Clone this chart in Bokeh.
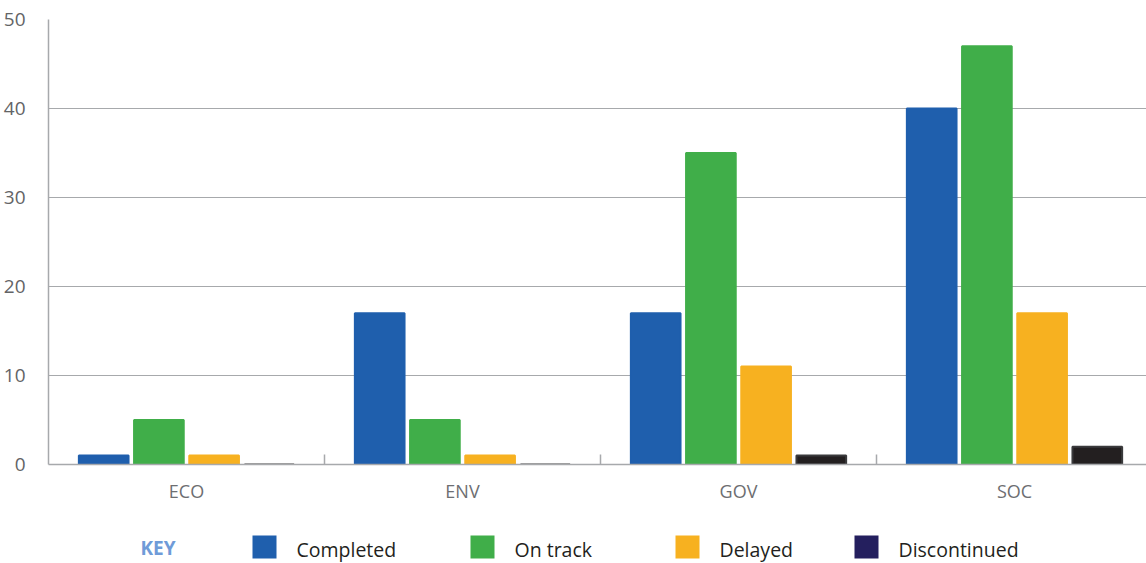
from bokeh.plotting import figure
from bokeh.layouts import column
from bokeh.models import Range1d, FixedTicker, ColumnDataSource
from bokeh.core.properties import value
from bokeh.embed import file_html
from bokeh.resources import INLINE

# Data
categories = ["ECO", "ENV", "GOV", "SOC"]
statuses = ["Completed", "On track", "Delayed", "Discontinued"]
completed = [1, 17, 17, 40]
on_track = [5, 5, 35, 47]
delayed = [1, 1, 11, 17]
discontinued = [0, 0, 1, 2]
y_ticks = [0, 10, 20, 30, 40, 50]

series = [completed, on_track, delayed, discontinued]
bar_colors = ["#1f5fad", "#40ae49", "#f7b120", "#231f20"]
edge_colors = ["#1f5fad", "#40ae49", "#f7b120", "#3a3a3c"]
key_colors = ["#1f5fad", "#40ae49", "#f7b120", "#241f5e"]

FONT = "Open Sans"
GRID = "#a7a9ac"
MAIN_H = 515
KEY_H = 563 - MAIN_H

# Main chart: each category occupies one unit; the frame shows just under four
p = figure(width=1146, height=MAIN_H, output_backend="svg", toolbar_location=None,
           x_range=Range1d(0, 1098 / 276), y_range=Range1d(0, 50),
           min_border_left=48, min_border_top=19, min_border_bottom=MAIN_H - 464,
           min_border_right=0)
p.outline_line_color = None
p.background_fill_color = "white"
p.border_fill_color = "white"

offsets = [-1.5, -0.5, 0.5, 1.5]
step = 0.2
for vals, col, edge, off in zip(series, bar_colors, edge_colors, offsets):
    src = ColumnDataSource(dict(x=[i + 0.5 + off * step for i in range(len(categories))],
                                top=vals))
    p.vbar(x="x", top="top", bottom=0, width=0.18, source=src,
           fill_color=col, line_color=edge, line_width=2)

# x axis: labels at category centres, small upward ticks between categories
ticker = FixedTicker(ticks=[i + 0.5 for i in range(len(categories))],
                     minor_ticks=[1, 2, 3])
p.xaxis.ticker = ticker
p.xaxis.major_label_overrides = {i + 0.5: c for i, c in enumerate(categories)}
p.xaxis.major_tick_line_color = None
p.xaxis.minor_tick_in = 10
p.xaxis.minor_tick_out = 0
p.xaxis.minor_tick_line_color = GRID
p.xaxis.minor_tick_line_width = 1.5
p.xaxis.axis_line_color = GRID
p.xaxis.axis_line_width = 1.5
p.xaxis.major_label_text_font = FONT
p.xaxis.major_label_text_font_size = "18px"
p.xaxis.major_label_text_color = "#6d6e71"
p.xaxis.major_label_standoff = 8
p.xgrid.grid_line_color = None

p.yaxis.ticker = FixedTicker(ticks=y_ticks)
p.yaxis.major_tick_line_color = None
p.yaxis.minor_tick_line_color = None
p.yaxis.axis_line_color = GRID
p.yaxis.axis_line_width = 1.5
p.yaxis.major_label_text_font = FONT
p.yaxis.major_label_text_font_size = "19px"
p.yaxis.major_label_text_color = "#636466"
p.yaxis.major_label_standoff = 17
p.ygrid.grid_line_color = GRID
p.ygrid.grid_line_width = 1.2

# Key row beneath the chart (its frame lines up with the chart frame at x=48)
k = figure(width=1146, height=KEY_H, output_backend="svg", toolbar_location=None,
           x_range=Range1d(48, 1146), y_range=Range1d(KEY_H, 0),
           x_axis_location=None, y_axis_location=None,
           min_border_left=48, min_border_right=0, min_border_top=0,
           min_border_bottom=0)
k.outline_line_color = None
k.grid.visible = False

swatch_x = [264, 482, 687, 866]
row_y = 546.5 - MAIN_H
k.rect(x=swatch_x, y=[row_y] * 4, width=24, height=23, fill_color=key_colors,
       line_color=None)
k.text(x=[sx + 32 for sx in swatch_x], y=[row_y + 2] * 4, text=statuses,
       text_font=value(FONT), text_font_size="19.5px", text_color="#231f20",
       text_baseline="middle", text_align="left")
k.text(x=[140], y=[row_y + 1], text=["KEY"], text_font=value(FONT),
       text_font_size="19px", text_font_style="bold", text_color="#6f9bd8",
       text_baseline="middle", text_align="left")

layout = column(p, k, spacing=0)
open("out.html", "w").write(file_html(layout, INLINE))
